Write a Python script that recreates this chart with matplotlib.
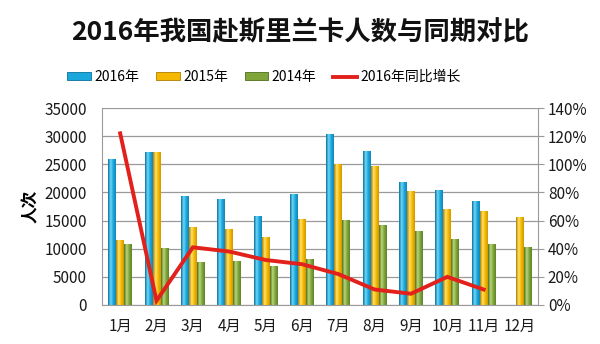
import numpy as np
import matplotlib.pyplot as plt
from matplotlib.colors import LinearSegmentedColormap
from matplotlib.lines import Line2D
from matplotlib.patches import Patch
from matplotlib.ticker import PercentFormatter

plt.rcParams['font.family'] = ['Noto Sans CJK SC', 'DejaVu Sans']

months = ['1月', '2月', '3月', '4月', '5月', '6月', '7月', '8月', '9月', '10月', '11月', '12月']
visitors_2016 = [26000, 27200, 19400, 18800, 15800, 19800, 30400, 27300, 21900, 20400, 18400, np.nan]
visitors_2015 = [11500, 27200, 13800, 13500, 12000, 15200, 25000, 24700, 20300, 17000, 16700, 15600]
visitors_2014 = [10800, 10200, 7700, 7900, 7000, 8200, 15100, 14200, 13100, 11800, 10800, 10300]
growth_2016 = [1.22, 0.03, 0.41, 0.38, 0.32, 0.29, 0.22, 0.11, 0.08, 0.20, 0.11]

# cylinder shading: dark edge, highlight, body, shaded side
series = [
    ('2016年', visitors_2016, ['#0b6f9c', '#6fd6f7', '#1aa7dc', '#1286b8']),
    ('2015年', visitors_2015, ['#b07d00', '#ffe36a', '#f5b800', '#cf9800']),
    ('2014年', visitors_2014, ['#4f6d1c', '#b8d77a', '#7fa53a', '#5f8328']),
]
line_color = '#e2211c'
grid_color = '#9a9a9a'


def shaded_bars(ax, x, heights, width, stops):
    cmap = LinearSegmentedColormap.from_list('cyl', stops)
    grad = np.linspace(0, 1, 64).reshape(1, -1)
    bars = ax.bar(x, heights, width, color=stops[2], linewidth=0, zorder=2)
    for bar in bars:
        h = bar.get_height()
        if not np.isfinite(h):
            continue
        x0 = bar.get_x()
        img = ax.imshow(grad, cmap=cmap, aspect='auto', zorder=2.1,
                        extent=(x0, x0 + bar.get_width(), 0, h))
        img.set_clip_path(bar)
    return bars


fig = plt.figure(figsize=(6, 3.44), dpi=100)
ax = fig.add_axes([0.17, 0.1134, 0.727, 0.5726])

x = np.arange(len(months))
w = 0.22
for i, (name, vals, stops) in enumerate(series):
    shaded_bars(ax, x + (i - 1) * w, vals, w, stops)

ax.set_xlim(-0.5, len(months) - 0.5)
ax.set_ylim(0, 35000)
ax.set_yticks(np.arange(0, 35001, 5000))
ax.set_xticks(x)
ax.set_xticklabels(months)
ax.grid(axis='y', color=grid_color, linewidth=0.9, zorder=0)
ax.set_axisbelow(True)
ax.tick_params(axis='y', length=0, pad=11, labelsize=11, colors='#1a1a1a')
ax.tick_params(axis='x', length=0, pad=9, labelsize=11, colors='#1a1a1a')
for side in ['left', 'bottom', 'right']:
    ax.spines[side].set_color(grid_color)
ax.spines['top'].set_visible(False)
ax.set_ylabel('人次', fontsize=12, fontweight='bold', labelpad=3)

ax2 = ax.twinx()
ax2.plot(x[:len(growth_2016)], growth_2016, color=line_color, linewidth=2.8,
         solid_joinstyle='miter', zorder=5)
ax2.set_ylim(0, 1.4)
ax2.set_yticks(np.arange(0, 1.41, 0.2))
ax2.yaxis.set_major_formatter(PercentFormatter(1.0, decimals=0))
ax2.tick_params(axis='y', length=4, color=grid_color, pad=3, labelsize=11, colors='#1a1a1a')
for side in ['left', 'bottom', 'right', 'top']:
    ax2.spines[side].set_visible(False)

fig.text(0.5, 0.905, '2016年我国赴斯里兰卡人数与同期对比', ha='center', va='center',
         fontsize=19, fontweight='bold', color='#111111')

handles = [Patch(facecolor=s[2][2], edgecolor=s[2][0], linewidth=0.6) for s in series]
handles.append(Line2D([0], [0], color=line_color, linewidth=2.8))
labels = [s[0] for s in series] + ['2016年同比增长']
fig.legend(handles, labels, loc='center', bbox_to_anchor=(0.44, 0.776), ncol=4,
           frameon=False, fontsize=10, handlelength=1.7, handleheight=0.5,
           handletextpad=0.25, columnspacing=1.2)

fig.savefig('out.png', dpi=100)
